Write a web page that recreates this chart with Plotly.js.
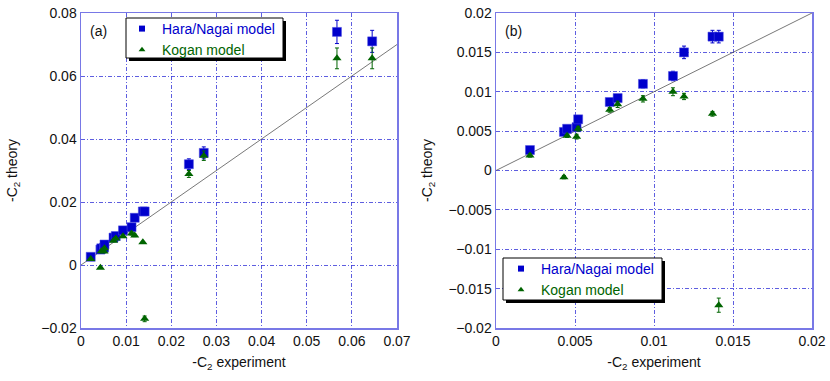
<!DOCTYPE html>
<html>
<head>
<meta charset="utf-8">
<script src="https://cdn.plot.ly/plotly-3.0.1.min.js"></script>
<style>
  html, body { margin: 0; padding: 0; background: #fff; }
  #chart { width: 830px; height: 381px; }
</style>
</head>
<body>
<div id="chart"></div>
<script>
// measured -C2 (experiment) and the two theory predictions
var expX = [0.00215, 0.0043, 0.0045, 0.0051, 0.0052, 0.0072, 0.0077, 0.0093,
            0.0112, 0.0119, 0.0137, 0.0141, 0.0239, 0.0272, 0.0567, 0.0645];
var expErrX = [0, 0, 0, 0, 0.0002, 0, 0, 0, 0, 0, 0.0002, 0.0002, 0, 0, 0, 0];

var haraY = [0.0026, 0.0049, 0.0053, 0.0055, 0.0065, 0.0087, 0.0092, 0.0110,
             0.0120, 0.0150, 0.0170, 0.0170, 0.0320, 0.0356, 0.0740, 0.0710];
var haraErr = [0.0002, 0.0002, 0.0002, 0.0003, 0.0003, 0.0003, 0.0003, 0.0005,
               0.0006, 0.0008, 0.0008, 0.0008, 0.0017, 0.0019, 0.0037, 0.0035];

var koganY = [0.0019, -0.00085, 0.0044, 0.0043, 0.0053, 0.0077, 0.0084, 0.0091,
              0.0100, 0.0094, 0.0072, -0.0171, 0.0289, 0.0347, 0.0656, 0.0656];
var koganErr = [0.0002, 0.0002, 0.0002, 0.0003, 0.0003, 0.0003, 0.0004, 0.0004,
                0.0005, 0.0004, 0.0003, 0.0009, 0.0011, 0.0015, 0.0033, 0.0033];

var rangeXa = [0, 0.07], rangeYa = [-0.02, 0.08];
var rangeXb = [0, 0.02], rangeYb = [-0.02, 0.02];

var blue = '#0000cc', green = '#006400';
var haraName = '<span style="color:' + blue + '">Hara/Nagai model</span>';
var koganName = '<span style="color:' + green + '">Kogan model</span>';

function series(xa, ya, leg) {
  var hara = {
    x: expX, y: haraY, type: 'scatter', mode: 'markers',
    showlegend: false, xaxis: xa, yaxis: ya,
    marker: {symbol: 'square', size: 9, color: blue, line: {color: '#4a4ae0', width: 0.5}},
    error_y: {type: 'data', array: haraErr, color: blue, thickness: 1, width: 2},
    error_x: {type: 'data', array: expErrX, color: blue, thickness: 1, width: 2}
  };
  var kogan = {
    x: expX, y: koganY, type: 'scatter', mode: 'markers',
    showlegend: false, xaxis: xa, yaxis: ya,
    marker: {symbol: 'triangle-up', size: 8, color: green},
    error_y: {type: 'data', array: koganErr, color: green, thickness: 1, width: 2}
  };
  // legend-only entries, smaller symbols like the original key
  var keyH = {x: [null], y: [null], type: 'scatter', mode: 'markers', name: haraName,
              xaxis: xa, yaxis: ya, legend: leg,
              marker: {symbol: 'square', size: 6, color: blue}};
  var keyK = {x: [null], y: [null], type: 'scatter', mode: 'markers', name: koganName,
              xaxis: xa, yaxis: ya, legend: leg,
              marker: {symbol: 'triangle-up', size: 6, color: green}};
  return [hara, kogan, keyH, keyK];
}

function diag(r, xa, ya) {
  return {x: r, y: r, type: 'scatter', mode: 'lines', showlegend: false,
          xaxis: xa, yaxis: ya, hoverinfo: 'skip',
          line: {color: '#555', width: 0.8}};
}

var data = [diag(rangeXa, 'x', 'y'), diag(rangeXb, 'x2', 'y2')]
  .concat(series('x', 'y', 'legend'))
  .concat(series('x2', 'y2', 'legend2'));

var font = {family: 'Liberation Sans, Arial, sans-serif', size: 14, color: '#111'};

function ax(range, dtick, dom, anchor, title, standoff) {
  return {
    range: range, dtick: dtick, domain: dom, anchor: anchor,
    showline: true, mirror: true, linecolor: '#7878e6', linewidth: 1.5,
    showgrid: true, gridcolor: '#3636d8', griddash: '4px,2px,1px,2px', gridwidth: 0.8,
    zeroline: false, ticks: '', tickfont: font,
    title: {text: title, font: font, standoff: standoff}
  };
}

var ydom = [1 - 328 / 381, 1 - 13 / 381];

function px(x) { return x / 830; }
function py(y) { return 1 - y / 381; }

// legend frame with drop shadow
function box(x0, y0, x1, y1) {
  return [
    {type: 'rect', xref: 'paper', yref: 'paper', layer: 'above',
     x0: px(x0 + 3), x1: px(x1 + 3), y0: py(y0 + 3), y1: py(y1 + 3),
     fillcolor: '#000', line: {width: 0}},
    {type: 'rect', xref: 'paper', yref: 'paper', layer: 'above',
     x0: px(x0), x1: px(x1), y0: py(y0), y1: py(y1),
     fillcolor: '#fff', line: {color: '#000', width: 1}}
  ];
}

var legendStyle = {
  xanchor: 'left', yanchor: 'top', bgcolor: 'rgba(0,0,0,0)', borderwidth: 0,
  font: {family: font.family, size: 14}, tracegroupgap: 0
};

var layout = {
  width: 830, height: 381,
  margin: {l: 0, r: 0, t: 0, b: 0},
  paper_bgcolor: '#fff', plot_bgcolor: '#fff',
  font: font,
  showlegend: true,
  xaxis: ax(rangeXa, 0.01, [px(81), px(397)], 'y', '-C<sub>2</sub> experiment', 9),
  yaxis: ax(rangeYa, 0.02, ydom, 'x', '-C<sub>2</sub> theory', 20),
  xaxis2: ax(rangeXb, 0.005, [px(496), px(812)], 'y2', '-C<sub>2</sub> experiment', 9),
  yaxis2: ax(rangeYb, 0.005, ydom, 'x2', '-C<sub>2</sub> theory', 12),
  legend: Object.assign({x: px(122), y: py(13)}, legendStyle),
  legend2: Object.assign({x: px(501), y: py(253)}, legendStyle),
  shapes: box(126, 18, 283, 58).concat(box(503, 258, 662, 300)),
  annotations: [
    {text: '(a)', xref: 'paper', yref: 'paper', x: px(88), y: py(21),
     xanchor: 'left', yanchor: 'top', showarrow: false, font: font},
    {text: '(b)', xref: 'paper', yref: 'paper', x: px(503), y: py(21),
     xanchor: 'left', yanchor: 'top', showarrow: false, font: font}
  ]
};

Plotly.newPlot('chart', data, layout, {displayModeBar: false, staticPlot: true});
</script>
</body>
</html>
